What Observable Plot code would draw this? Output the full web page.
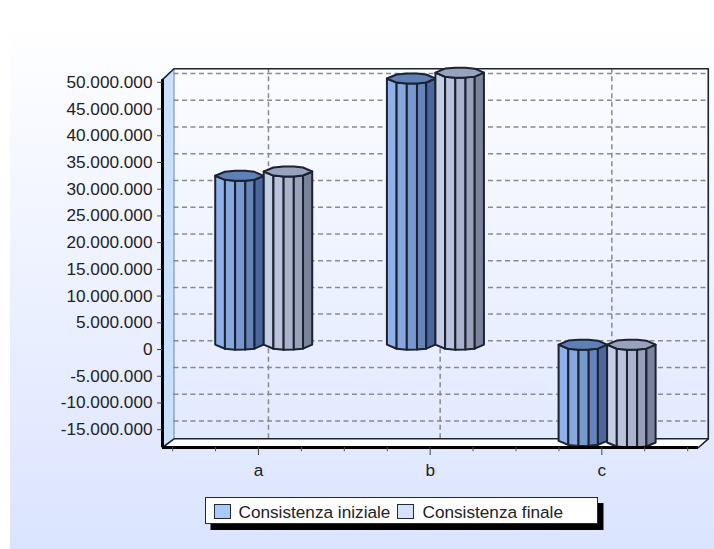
<!DOCTYPE html>
<html>
<head>
<meta charset="utf-8">
<style>
html,body{margin:0;padding:0;background:#fff;}
#wrap{position:relative;width:714px;height:549px;overflow:hidden;}
#bg{position:absolute;left:10px;top:20px;right:0;bottom:0;background:linear-gradient(#ffffff,#dbe4ff);}
#chart{position:absolute;left:0;top:0;}
#chart svg{background:transparent;display:block;overflow:visible;}
#legend{position:absolute;left:205px;top:497px;width:391px;height:25px;box-sizing:content-box;background:#fff;border:1.5px solid #222a38;box-shadow:5.5px 6px 0 #000;font:17.2px "Liberation Sans",Arial,sans-serif;color:#222;white-space:nowrap;}
#legend i{position:absolute;top:5.5px;width:15.5px;height:13.5px;border:1.5px solid #222a38;}
#legend span{position:absolute;top:4px;}
</style>
</head>
<body>
<div id="wrap">
  <div id="bg"></div>
  <div id="chart"></div>
  <div id="legend">
    <i style="left:7.5px;background:#a9c9ff"></i><span style="left:32.5px">Consistenza iniziale</span>
    <i style="left:190.5px;background:#d6e1ff"></i><span style="left:216.5px">Consistenza finale</span>
  </div>
</div>
<script src="https://cdn.jsdelivr.net/npm/d3@7"></script>
<script src="https://cdn.jsdelivr.net/npm/@observablehq/plot@0.6"></script>
<script>
const categories = ["a", "b", "c"];
const consistenzaIniziale = [31600000, 49800000, -18000000];
const consistenzaFinale = [32400000, 50900000, -18300000];
const yTicks = [50e6,45e6,40e6,35e6,30e6,25e6,20e6,15e6,10e6,5e6,0,-5e6,-10e6,-15e6];
const xMinorTicks = [-0.5,-0.25,0.25,0.5,0.75,1.25,1.5,1.75,2.25,2.5];

const blueFacets = ["#8fb0ea","#87a7df","#7898d0","#6684bb","#4a689f"];
const grayFacets = ["#c5cde5","#bbc3dc","#abb3cc","#9aa2bb","#7a829c"];
const blueCap = "#5f7fb9";
const grayCap = "#98a2bc";
const line = "#1b2230";

const xDomain = [-0.559, 2.563];
const yDomain = [-18330000, 50900000];
const depthX = 0.067, depthY = 1630000;
const cylW = 0.2825, capH = 950000;
const stops = [0, 0.2, 0.41, 0.62, 0.81, 1];
const rim = t => capH * Math.sqrt(Math.max(0, 1 - (2*t - 1) ** 2));

const fmt = d3.formatLocale({decimal:",", thousands:".", grouping:[3], currency:["",""], minus:"-"}).format(",");

function cylinder(i, v, x0, facets, cap, key) {
  const base = depthY / 2;
  const lo = Math.min(0, v) + base, hi = Math.max(0, v) + base;
  const px = t => i + depthX / 2 + x0 + t * cylW;
  const strips = facets.flatMap((c, k) => [stops[k], stops[k+1]].map(t => ({
    id: key + i + k, fill: c, x: px(t), y1: lo - rim(t), y2: hi - rim(t)
  })));
  const capRows = stops.map(t => ({id: key + i + "cap", fill: cap, x: px(t), y1: hi - rim(t), y2: hi + rim(t)}));
  return [...strips, ...capRows];
}

const rows = categories.flatMap((c, i) => [
  ...cylinder(i, consistenzaIniziale[i], -cylW, blueFacets, blueCap, "i"),
  ...cylinder(i, consistenzaFinale[i], 0, grayFacets, grayCap, "f")
]);

const [xa, xb] = xDomain, [ya, yb] = yDomain;
const frontTop = yb - 400000;
const backRight = xb + depthX * 0.85;
const leftWall = [{x:xa,y1:ya,y2:frontTop},{x:xa+depthX,y1:ya+depthY,y2:yb+depthY}];
const floor = [
  {x:xa,y1:ya,y2:ya},{x:xa+depthX,y1:ya,y2:ya+depthY},
  {x:xb,y1:ya,y2:ya+depthY},{x:backRight,y1:ya+depthY,y2:ya+depthY}
];
const wallFrame = [
  {x:xa,y:frontTop},{x:xa+depthX,y:yb+depthY},{x:backRight,y:yb+depthY},
  {x:backRight,y:ya+depthY},{x:xb,y:ya}
];
const floorBack = [{x:xa,y:ya},{x:xa+depthX,y:ya+depthY},{x:backRight,y:ya+depthY}];
const wallLeftEdge = [{x:xa+depthX,y:ya+depthY},{x:xa+depthX,y:yb+depthY}];

const chart = Plot.plot({
  width: 714, height: 549,
  marginTop: 77, marginBottom: 102, marginLeft: 162, marginRight: 16,
  x: {domain: xDomain},
  y: {domain: yDomain},
  color: {type: "identity"},
  style: {fontFamily: '"Liberation Sans",Arial,sans-serif', fontSize: "17.2px", color: "#222", background: "transparent", overflow: "visible"},
  marks: [
    Plot.areaY(leftWall, {x:"x", y1:"y1", y2:"y2", fill:"#c7e1ff"}),
    Plot.ruleY(yTicks, {y: d=>d+depthY, x1: ()=>xa+depthX, x2: ()=>backRight, stroke:"#8a8a8a", strokeWidth:1.5, strokeDasharray:"5,3.5"}),
    Plot.ruleX(categories.map((c,i)=>i), {x: d=>d+depthX, y1: ()=>ya+depthY, y2: ()=>yb+depthY, dx:-1.5, stroke:"#8a8a8a", strokeWidth:1.5, strokeDasharray:"5,3.5"}),
    Plot.line(wallLeftEdge, {x:"x", y:"y", stroke:"#6f7f99", strokeWidth:1}),
    Plot.areaY(floor, {x:"x", y1:"y1", y2:"y2", fill:"#ffffff"}),
    Plot.line(wallFrame, {x:"x", y:"y", stroke:line, strokeWidth:1.6}),
    Plot.line(floorBack, {x:"x", y:"y", stroke:line, strokeWidth:1.6}),
    Plot.areaY(rows, {x:"x", y1:"y1", y2:"y2", z:"id", fill:"fill", stroke:line, strokeWidth:2, curve:"linear"}),
    Plot.ruleX([xa], {x:d=>d, y1:()=>ya, y2:()=>frontTop, stroke:"#000", strokeWidth:3}),
    Plot.ruleY([ya], {y:d=>d, x1:()=>xa, x2:()=>xb, stroke:"#000", strokeWidth:3}),
    Plot.axisY({ticks: yTicks, tickFormat: fmt, tickSize: 5, tickPadding: 5, label: null, stroke:"#444"}),
    Plot.ruleX(xMinorTicks, {x:d=>d, y1:()=>ya, y2:()=>ya-800000, stroke:"#555"}),
    Plot.axisX({ticks: [0,1,2], tickFormat: i => categories[i], tickSize: 8, tickPadding: 8, label: null, stroke:"#444"})
  ]
});
document.getElementById("chart").appendChild(chart);
</script>
</body>
</html>
